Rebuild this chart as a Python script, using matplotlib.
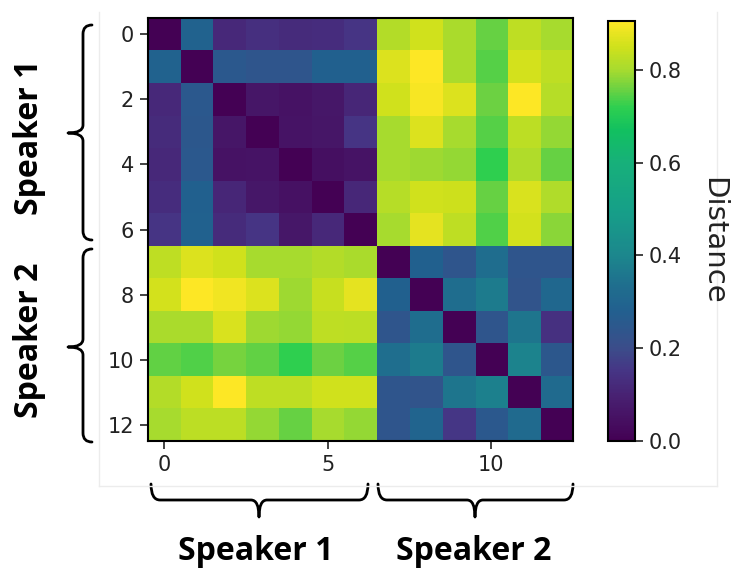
import matplotlib
matplotlib.use('Agg')
import matplotlib.pyplot as plt
from matplotlib.path import Path
from matplotlib.patches import PathPatch
from matplotlib.lines import Line2D
from matplotlib.colors import LinearSegmentedColormap
import numpy as np

# ---- data: pairwise distance matrix (13 utterances, 2 speakers) ----
row00 = [0.000, 0.290, 0.120, 0.135, 0.125, 0.130, 0.150, 0.815, 0.850, 0.805, 0.755, 0.830, 0.800]
row01 = [0.290, 0.000, 0.250, 0.240, 0.240, 0.280, 0.280, 0.865, 0.905, 0.805, 0.745, 0.855, 0.830]
row02 = [0.120, 0.250, 0.000, 0.065, 0.055, 0.070, 0.110, 0.850, 0.895, 0.865, 0.760, 0.905, 0.820]
row03 = [0.125, 0.245, 0.065, 0.000, 0.060, 0.065, 0.150, 0.800, 0.865, 0.800, 0.745, 0.825, 0.785]
row04 = [0.120, 0.250, 0.055, 0.060, 0.000, 0.045, 0.060, 0.800, 0.795, 0.785, 0.720, 0.810, 0.755]
row05 = [0.130, 0.280, 0.110, 0.070, 0.050, 0.000, 0.115, 0.820, 0.850, 0.845, 0.755, 0.860, 0.810]
row06 = [0.150, 0.285, 0.125, 0.150, 0.070, 0.120, 0.000, 0.800, 0.875, 0.830, 0.740, 0.855, 0.780]
row07 = [0.830, 0.865, 0.850, 0.800, 0.800, 0.815, 0.805, 0.000, 0.280, 0.240, 0.330, 0.240, 0.240]
row08 = [0.855, 0.905, 0.890, 0.865, 0.795, 0.840, 0.875, 0.280, 0.000, 0.330, 0.370, 0.230, 0.310]
row09 = [0.805, 0.805, 0.860, 0.795, 0.785, 0.830, 0.825, 0.240, 0.330, 0.000, 0.240, 0.355, 0.140]
row10 = [0.750, 0.740, 0.765, 0.750, 0.720, 0.760, 0.745, 0.335, 0.370, 0.240, 0.000, 0.390, 0.245]
row11 = [0.815, 0.850, 0.905, 0.830, 0.830, 0.850, 0.850, 0.240, 0.230, 0.355, 0.385, 0.000, 0.320]
row12 = [0.800, 0.825, 0.825, 0.785, 0.755, 0.800, 0.785, 0.240, 0.300, 0.155, 0.250, 0.320, 0.000]

x_ticks = [0, 5, 10]
y_ticks = [0, 2, 4, 6, 8, 10, 12]
cbar_ticks = [0.0, 0.2, 0.4, 0.6, 0.8]
cbar_label = "Distance"
group_labels = ["Speaker 1", "Speaker 2"]

D = np.array([row00, row01, row02, row03, row04, row05, row06,
              row07, row08, row09, row10, row11, row12])

# viridis-like palette as it appears (vivid) in the reference colour bar
VMAX = 0.905
cmap_values = [0.0, 0.09, 0.15, 0.20, 0.28, 0.34, 0.40, 0.50, 0.60, 0.67, 0.72, 0.76, 0.80, 0.85, 0.905]
cmap_colors = ['#440154', '#481f70', '#463585', '#3b4d8a', '#22608f', '#1f708e', '#1c878d',
               '#16a088', '#17b07a', '#12c060', '#2ecf50', '#6dd242', '#a6db2f', '#cfe11c', '#fde725']
cmap = LinearSegmentedColormap.from_list(
    'viridis_vivid', [(v / VMAX, c) for v, c in zip(cmap_values, cmap_colors)])

W, H = 731, 568
fig = plt.figure(figsize=(W / 100, H / 100), dpi=100)


def fx(x):
    return x / W


def fy(y):
    return 1 - y / H


# faint frame of the original figure area
for (xa, ya, xb, yb) in [(99, 12, 99, 486), (717, 12, 717, 486), (99, 486, 717, 486)]:
    fig.add_artist(Line2D([fx(xa), fx(xb)], [fy(ya), fy(yb)], transform=fig.transFigure,
                          color='#ececec', lw=1))

ax = fig.add_axes([fx(148), fy(441), 425 / W, 423 / H])
im = ax.imshow(D, cmap=cmap, vmin=0, vmax=VMAX, aspect='auto', interpolation='nearest')
ax.set_xticks(x_ticks)
ax.set_yticks(y_ticks)
ax.tick_params(labelsize=15, length=6, width=1.2, pad=4, colors='#222222')
for s in ax.spines.values():
    s.set_linewidth(1.5)

cax = fig.add_axes([fx(608), fy(441), 27 / W, 420 / H])
cb = fig.colorbar(im, cax=cax)
cb.set_ticks(cbar_ticks)
cb.ax.tick_params(labelsize=15, length=6, width=1.2, pad=4, colors='#222222')
cb.outline.set_linewidth(1.5)
fig.text(fx(713), fy(241), cbar_label, rotation=270, ha='center', va='center',
         fontsize=21, color='#222222')


def add_path(verts, codes):
    v = [(fx(a), fy(b)) for a, b in verts]
    p = PathPatch(Path(v, codes), fill=False, lw=2.0, ec='black',
                  transform=fig.transFigure, capstyle='round', joinstyle='round')
    fig.add_artist(p)


def brace_left(x_hook, x_spine, x_tip, y0, y1, ym):
    r = 9
    r2 = 8
    verts = [(x_hook, y0), (x_spine, y0), (x_spine, y0 + r),
             (x_spine, ym - r2),
             (x_spine, ym), (x_tip, ym),
             (x_spine, ym), (x_spine, ym + r2),
             (x_spine, y1 - r),
             (x_spine, y1), (x_hook, y1)]
    codes = [Path.MOVETO, Path.CURVE3, Path.CURVE3,
             Path.LINETO,
             Path.CURVE3, Path.CURVE3,
             Path.CURVE3, Path.CURVE3,
             Path.LINETO,
             Path.CURVE3, Path.CURVE3]
    add_path(verts, codes)


def brace_bottom(y_hook, y_spine, y_tip, x0, x1, xm):
    r = 9
    r2 = 8
    verts = [(x0, y_hook), (x0, y_spine), (x0 + r, y_spine),
             (xm - r2, y_spine),
             (xm, y_spine), (xm, y_tip),
             (xm, y_spine), (xm + r2, y_spine),
             (x1 - r, y_spine),
             (x1, y_spine), (x1, y_hook)]
    codes = [Path.MOVETO, Path.CURVE3, Path.CURVE3,
             Path.LINETO,
             Path.CURVE3, Path.CURVE3,
             Path.CURVE3, Path.CURVE3,
             Path.LINETO,
             Path.CURVE3, Path.CURVE3]
    add_path(verts, codes)


brace_left(92, 83, 68, 25, 240, 133)
brace_left(92, 83, 68, 249, 442, 347)
brace_bottom(484, 500, 517, 151, 368, 259)
brace_bottom(484, 500, 517, 378, 573, 475)

bold = dict(fontsize=23, fontweight='bold', family=['Open Sans', 'DejaVu Sans'],
            ha='center', va='center', color='black')
fig.text(fx(30), fy(137), group_labels[0], rotation=90, **bold)
fig.text(fx(30), fy(340), group_labels[1], rotation=90, **bold)
fig.text(fx(256), fy(551), group_labels[0], **bold)
fig.text(fx(474), fy(551), group_labels[1], **bold)

fig.savefig('out.png', dpi=100, facecolor='white')
